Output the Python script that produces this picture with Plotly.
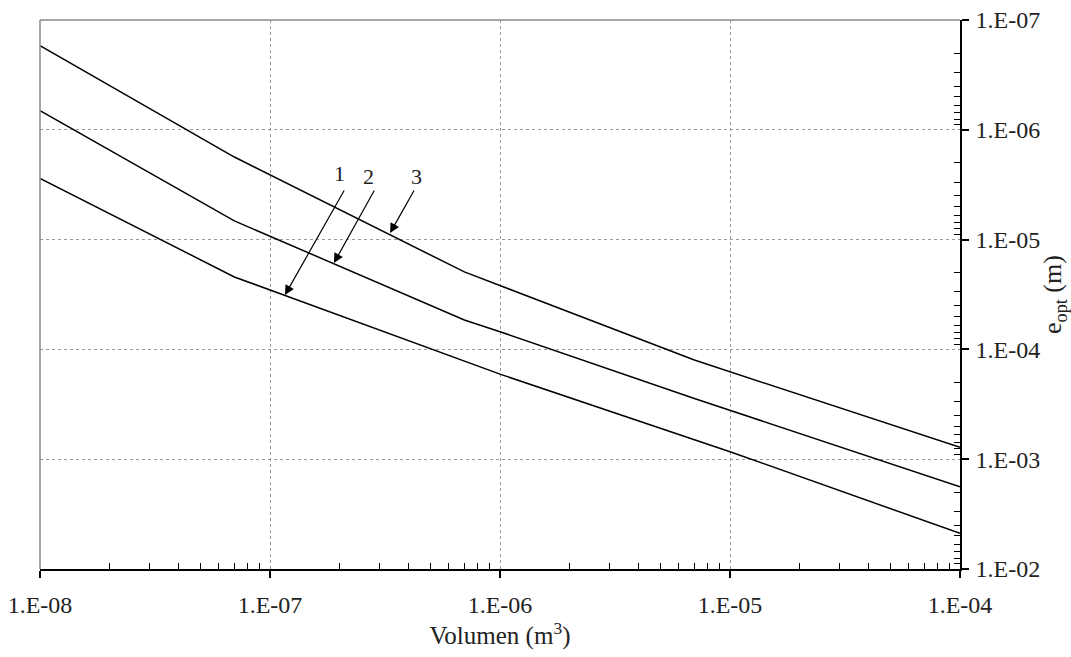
import plotly.graph_objects as go

# Data
volume = [1e-8, 7e-8, 7e-7, 7e-6, 1e-4]
e_opt_3 = [1.71e-7, 1.77e-6, 1.97e-5, 1.25e-4, 7.80e-4]

volume_2 = [1e-8, 7e-8, 7e-7, 1e-6, 7e-6, 1e-4]
e_opt_2 = [6.70e-7, 6.76e-6, 5.39e-5, 6.90e-5, 2.80e-4, 1.78e-3]

volume_1 = [1e-8, 7e-8, 1e-6, 1e-5, 1e-4]
e_opt_1 = [2.77e-6, 2.19e-5, 1.68e-4, 8.55e-4, 4.73e-3]

x_tickvals = [1e-8, 1e-7, 1e-6, 1e-5, 1e-4]
x_ticktext = ["1.E-08", "1.E-07", "1.E-06", "1.E-05", "1.E-04"]
y_tickvals = [1e-7, 1e-6, 1e-5, 1e-4, 1e-3, 1e-2]
y_ticktext = ["1.E-07", "1.E-06", "1.E-05", "1.E-04", "1.E-03", "1.E-02"]

FONT = "Liberation Serif"
TXT = "#222"

fig = go.Figure()
for xs, ys in [(volume_1, e_opt_1), (volume_2, e_opt_2), (volume, e_opt_3)]:
    fig.add_trace(go.Scatter(x=xs, y=ys, mode="lines",
                             line=dict(color="black", width=1.5),
                             showlegend=False, hoverinfo="skip"))

x_minor = [m * 10 ** e for e in range(-8, -4) for m in range(2, 10)]
y_minor = [m * 10 ** e for e in range(-7, -2) for m in range(2, 10)]

fig.update_xaxes(
    type="log", range=[-8, -4], side="bottom",
    tickvals=x_tickvals, ticktext=x_ticktext,
    ticks="outside", ticklen=7, tickwidth=1.5, tickcolor="black",
    showline=True, linecolor="black", linewidth=1.5,
    showgrid=True, gridcolor="#9a9a9a", griddash="dot", gridwidth=1,
    minor=dict(tickvals=x_minor, ticks="inside", ticklen=6, tickcolor="black",
               tickwidth=1, showgrid=False),
    tickfont=dict(family=FONT, size=24, color=TXT),
    ticklabelstandoff=6,
    title=dict(text="Volumen (m<sup>3</sup>)", font=dict(family=FONT, size=25, color=TXT),
               standoff=0),
    zeroline=False,
)
fig.update_yaxes(
    type="log", range=[-2, -7], side="right",
    tickvals=y_tickvals, ticktext=y_ticktext,
    ticks="outside", ticklen=7, tickwidth=1.5, tickcolor="black",
    showline=True, linecolor="black", linewidth=1.5,
    showgrid=True, gridcolor="#9a9a9a", griddash="dot", gridwidth=1,
    minor=dict(tickvals=y_minor, ticks="inside", ticklen=6, tickcolor="black",
               tickwidth=1, showgrid=False),
    tickfont=dict(family=FONT, size=24, color=TXT),
    ticklabelstandoff=2,
    title=dict(text="e<sub>opt</sub> (m)", font=dict(family=FONT, size=26, color=TXT),
               standoff=4),
    zeroline=False,
)

# grey frame on top and left
fig.add_shape(type="line", xref="paper", yref="paper", x0=0, x1=1, y0=1, y1=1,
              line=dict(color="#8a8a8a", width=1.5))
fig.add_shape(type="line", xref="paper", yref="paper", x0=0, x1=0, y0=0, y1=1,
              line=dict(color="#8a8a8a", width=1.5))

# arrows (tip -> tail, in log10 units)
arrows = [(-6.935, -4.495, -6.674, -5.461),
          (-6.722, -4.787, -6.543, -5.461),
          (-6.478, -5.060, -6.370, -5.461)]
for tx, ty, sx, sy in arrows:
    fig.add_annotation(x=tx, y=ty, ax=sx, ay=sy, xref="x", yref="y",
                       axref="x", ayref="y", text="", showarrow=True,
                       arrowhead=2, arrowsize=1.6, arrowwidth=1.2, arrowcolor="black")
labels = [("1", -6.700, -5.60), ("2", -6.570, -5.575), ("3", -6.365, -5.575)]
for t, lx, ly in labels:
    fig.add_annotation(x=lx, y=ly, xref="x", yref="y", text=t, showarrow=False,
                       font=dict(family=FONT, size=22, color=TXT))

fig.update_layout(
    width=1071, height=657,
    margin=dict(l=40, r=111, t=20, b=88, autoexpand=False),
    paper_bgcolor="white", plot_bgcolor="white",
    font=dict(family=FONT),
)
fig.write_html(
    "out.html",
    config={"displayModeBar": False},
    post_script="document.body.style.margin='0';document.body.style.padding='0';"
                "document.body.style.overflow='hidden';",
)
